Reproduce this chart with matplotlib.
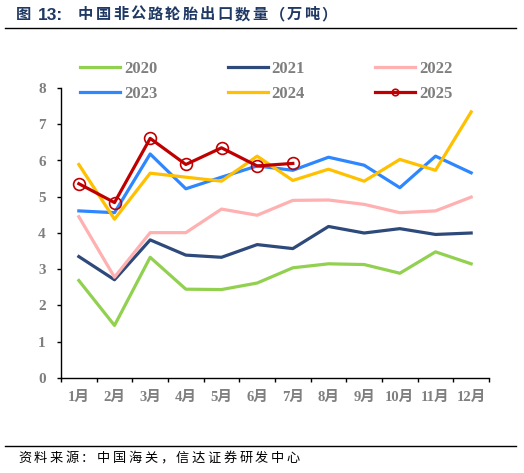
import numpy as np
import matplotlib
matplotlib.use('Agg')
import matplotlib.pyplot as plt
from matplotlib.lines import Line2D

plt.rcParams['font.family'] = ['Liberation Serif', 'Noto Sans CJK SC', 'DejaVu Sans']

W, H = 524, 473

months = ['1月', '2月', '3月', '4月', '5月', '6月', '7月', '8月', '9月', '10月', '11月', '12月']

y2020 = [2.69, 1.45, 3.33, 2.45, 2.44, 2.62, 3.04, 3.15, 3.13, 2.89, 3.48, 3.15]
y2021 = [3.35, 2.71, 3.81, 3.39, 3.33, 3.68, 3.57, 4.18, 4.00, 4.12, 3.96, 4.00]
y2022 = [4.45, 2.78, 4.01, 4.01, 4.66, 4.49, 4.90, 4.91, 4.79, 4.56, 4.61, 4.99]
y2023 = [4.61, 4.56, 6.18, 5.22, 5.54, 5.85, 5.73, 6.09, 5.87, 5.25, 6.12, 5.66]
y2024 = [5.89, 4.38, 5.65, 5.54, 5.43, 6.12, 5.45, 5.76, 5.43, 6.03, 5.73, 7.34]
y2025 = [5.36, 4.84, 6.61, 5.89, 6.35, 5.85, 5.92]

series = [
    ('2020', y2020, '#92d050'),
    ('2021', y2021, '#2e4a7a'),
    ('2022', y2022, '#ffb0b0'),
    ('2023', y2023, '#2f87ff'),
    ('2024', y2024, '#ffc000'),
]

title_head = ['图', '13:']
title_body = '中国非公路轮胎出口数量（万吨）'
source = '资料来源：中国海关，信达证券研发中心'


def px(x, y):
    return x / W, 1 - y / H


def spaced_text(fig, x0, y, s, pitch, **kw):
    # put each character at a fixed pitch, like the letter spacing in the original
    for i, ch in enumerate(s):
        fig.text(*px(x0 + i * pitch, y), ch, ha='left', va='center', **kw)


fig = plt.figure(figsize=(W / 100, H / 100), dpi=100)
ax = fig.add_axes([61 / W, 1 - 378 / H, 428 / W, 290 / H])

x = np.arange(len(months))
handles = []
for name, vals, col in series:
    h, = ax.plot(x[:len(vals)], vals, color=col, lw=2.3, label=name)
    handles.append(h)
h, = ax.plot(x[:len(y2025)], y2025, color='#c00000', lw=2.3, marker='o', ms=8.5,
             mfc='none', mec='#c00000', mew=1.2, label='2025')
handles.append(h)

ax.set_xlim(-0.5, 11.5)
ax.set_ylim(0, 8)
ax.set_yticks(range(0, 9))
ax.set_yticklabels([str(i) for i in range(0, 9)], fontsize=11, fontweight='bold', color='#7f7f7f')
ax.set_xticks(np.arange(-0.5, 12, 1))
ax.set_xticklabels([])
ax.set_xticks(x, minor=True)
ax.set_xticklabels(months, minor=True, fontsize=10.5, fontweight='bold', color='#7f7f7f')
ax.tick_params(axis='x', which='minor', length=0, pad=9)
ax.tick_params(axis='x', which='major', length=3, width=1, direction='out')
ax.tick_params(axis='y', length=3, width=1, direction='out', pad=8)
for s in ['top', 'right']:
    ax.spines[s].set_visible(False)
for s in ['left', 'bottom']:
    ax.spines[s].set_color('black')
    ax.spines[s].set_linewidth(1)

# legend: 3 columns, rows 2020/2021/2022 then 2023/2024/2025
order = [0, 3, 1, 4, 2, 5]
leg = fig.legend([handles[i] for i in order], [handles[i].get_label() for i in order],
                 ncol=3, loc='upper left', bbox_to_anchor=px(80, 61),
                 bbox_transform=fig.transFigure, frameon=False,
                 prop={'family': 'Liberation Serif', 'weight': 'bold', 'size': 12},
                 handlelength=2.4, handletextpad=0.25, columnspacing=4.2, labelspacing=0.55,
                 borderaxespad=0, borderpad=0, markerscale=0.55)
for t in leg.get_texts():
    t.set_color('#7f7f7f')

# title, rules and source
tkw = dict(fontweight='bold', color='#1f3864', family=['Liberation Sans', 'Noto Sans CJK SC'])
fig.text(*px(16, 15), title_head[0], ha='left', va='center', fontsize=11, **tkw)
fig.text(*px(38, 15), title_head[1], ha='left', va='center', fontsize=12.5, **tkw)
spaced_text(fig, 78, 15, title_body, 17.4, fontsize=11, **tkw)
fig.add_artist(Line2D([5 / W, 516 / W], [1 - 28 / H, 1 - 28 / H], color='black', lw=1))
fig.add_artist(Line2D([5 / W, 516 / W], [1 - 446 / H, 1 - 446 / H], color='black', lw=1))
spaced_text(fig, 18, 458, source, 15.8, fontsize=9.5, color='black', family=['Noto Sans CJK SC'])

fig.savefig('out.png', dpi=100)
